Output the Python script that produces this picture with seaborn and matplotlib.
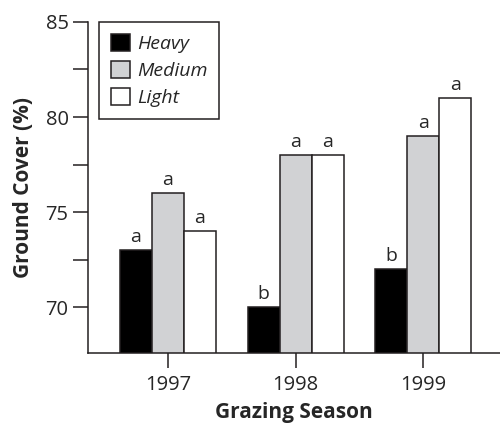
import matplotlib
matplotlib.use("Agg")
import matplotlib.pyplot as plt
import pandas as pd
import seaborn as sns
from matplotlib.ticker import MultipleLocator

seasons = ["1997", "1998", "1999"]
grazing = ["Heavy", "Medium", "Light"]
heavy = [73, 70, 72]
medium = [76, 78, 79]
light = [74, 78, 81]
letters = {
    "Heavy": ["a", "b", "b"],
    "Medium": ["a", "a", "a"],
    "Light": ["a", "a", "a"],
}
colors = ["#000000", "#d1d2d4", "#ffffff"]


def main():
    rows = []
    for level, vals in zip(grazing, [heavy, medium, light]):
        for s, v in zip(seasons, vals):
            rows.append({"season": s, "grazing": level, "cover": v})
    df = pd.DataFrame(rows)

    sns.set_style("ticks")
    plt.rcParams["font.family"] = ["Open Sans", "DejaVu Sans"]
    line_col = "#231f20"

    fig = plt.figure(figsize=(5, 4.23), dpi=100)
    ax = fig.add_axes([0.176, 0.1655, 0.824, 0.7825])

    sns.barplot(data=df, x="season", y="cover", hue="grazing", order=seasons,
                hue_order=grazing, palette=colors, edgecolor=line_col,
                linewidth=1.1, width=0.75, ax=ax)

    # significance letters above bars
    for cont, level in zip(ax.containers, grazing):
        ax.bar_label(cont, labels=letters[level], padding=3, fontsize=14)

    ax.set_ylim(67.58, 85)
    ax.set_xlim(-0.625, 2.6)
    ax.yaxis.set_major_locator(MultipleLocator(5))
    ax.yaxis.set_minor_locator(MultipleLocator(2.5))
    ax.tick_params(axis="both", which="both", length=11, width=1.1,
                   color=line_col, labelsize=14.5, pad=3)
    ax.tick_params(axis="x", pad=5)

    for side in ["top", "right"]:
        ax.spines[side].set_visible(False)
    for side in ["left", "bottom"]:
        ax.spines[side].set_color(line_col)
        ax.spines[side].set_linewidth(1.1)

    ax.set_xlabel("Grazing Season", fontsize=15, fontweight="bold", labelpad=5)
    ax.set_ylabel("Ground Cover (%)", fontsize=15, fontweight="bold", labelpad=8)

    leg = ax.legend(loc="upper left", bbox_to_anchor=(0.027, 1.0), borderaxespad=0,
                    frameon=True, fancybox=False, edgecolor=line_col,
                    handlelength=1.0, handleheight=1.0, handletextpad=0.35,
                    labelspacing=0.4, borderpad=0.6,
                    prop={"style": "italic", "size": 14})
    leg.get_frame().set_linewidth(1.1)
    leg.get_frame().set_alpha(1)

    fig.savefig("out.png", dpi=100)
    plt.close(fig)


if __name__ == "__main__":
    main()
